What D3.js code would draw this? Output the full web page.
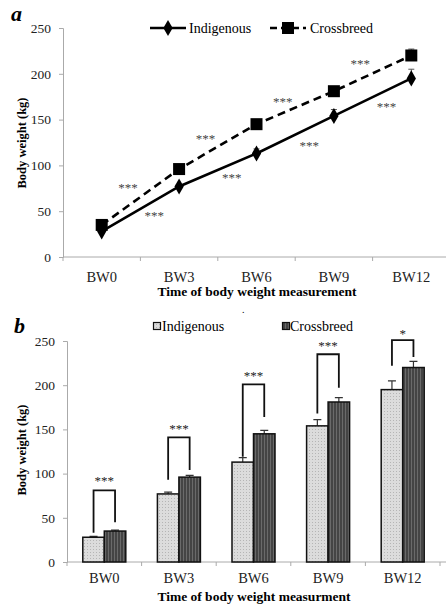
<!DOCTYPE html>
<html>
<head>
<meta charset="utf-8">
<script src="https://cdn.jsdelivr.net/npm/d3@7"></script>
<style>
  body { margin: 0; background: #fff; }
  svg text { font-family: "Liberation Serif", "Times New Roman", serif; }
</style>
</head>
<body>
<svg width="446" height="605"></svg>
<script>
const times = ['BW0', 'BW3', 'BW6', 'BW9', 'BW12']
const series = ['Indigenous', 'Crossbreed']
const indigenous = [28, 77, 113, 154, 195]
const crossbreed = [35, 96, 145, 181, 220]
const indigenousErr = [1, 2, 5, 7, 10]
const crossbreedErr = [1, 2, 4, 5, 7]
const yTicks = [0, 50, 100, 150, 200, 250]

// panel a: significance stars between time points [segment, value]
const starsUpper = [[0, 79], [1, 132], [2, 172], [3, 214]]
const starsLower = [[0, 48], [1, 89], [2, 124], [3, 167]]

// panel b: brackets [left foot, right foot, top, label value]
const brackets = [
  [33, 45, 81, 95],
  [93, 104, 141, 154],
  [119, 164, 201, 214],
  [168, 197, 235, 248],
  [222, 232, 251, 261]
]
const bracketLabels = ['***', '***', '***', '***', '*']

const svg = d3.select('svg')
const grey = '#aaa'

const styleAxis = g => {
  g.attr('font-family', null)
  g.select('.domain').attr('stroke', grey)
  g.selectAll('.tick line').attr('stroke', grey)
  g.selectAll('text').attr('fill', '#222')
}

// ---------- panel a ----------
const xa = d3.scaleBand().domain(times).range([63, 450])
const ya = d3.scaleLinear().domain([0, 250]).range([257, 28])
const cx = d => xa(d) + xa.bandwidth() / 2

svg.append('g')
  .attr('transform', 'translate(63,0)')
  .call(d3.axisLeft(ya).tickValues(yTicks).tickSize(4).tickPadding(8))
  .call(styleAxis)
  .call(g => g.selectAll('text').attr('font-size', 13.5))

const xAxisA = svg.append('g')
  .attr('transform', 'translate(0,257)')
xAxisA.append('line').attr('x1', 63).attr('x2', 446).attr('stroke', grey)
xAxisA.selectAll('line.tk').data(d3.range(6)).join('line')
  .attr('class', 'tk')
  .attr('x1', i => 63 + i * xa.bandwidth()).attr('x2', i => 63 + i * xa.bandwidth())
  .attr('y1', 0).attr('y2', 4).attr('stroke', grey)
xAxisA.selectAll('text').data(times).join('text')
  .attr('x', cx).attr('y', 25)
  .attr('text-anchor', 'middle').attr('font-size', 14.5).attr('fill', '#222')
  .text(d => d)

svg.append('text').attr('x', 257).attr('y', 296)
  .attr('text-anchor', 'middle').attr('font-weight', 'bold').attr('font-size', 13.5)
  .text('Time of body weight measurement')
svg.append('text').attr('transform', 'translate(26,143) rotate(-90)')
  .attr('text-anchor', 'middle').attr('font-weight', 'bold').attr('font-size', 12.5)
  .text('Body weight (kg)')
svg.append('text').attr('x', 11).attr('y', 21)
  .attr('font-weight', 'bold').attr('font-style', 'italic').attr('font-size', 22)
  .text('a')

const line = d3.line().x((d, i) => cx(times[i])).y(d => ya(d))

// error bars
const errA = [[indigenous, indigenousErr], [crossbreed, crossbreedErr]]
errA.forEach(([vals, errs]) => {
  svg.append('g').selectAll('path').data(vals).join('path')
    .attr('d', (d, i) => {
      const x = cx(times[i]), y0 = ya(d), y1 = ya(d + errs[i])
      return `M${x},${y0}V${y1}M${x - 3},${y1}H${x + 3}`
    })
    .attr('stroke', '#555').attr('stroke-width', 1)
})

svg.append('path').datum(crossbreed).attr('d', line)
  .attr('fill', 'none').attr('stroke', '#000').attr('stroke-width', 2.6).attr('stroke-dasharray', '8,5')
svg.append('path').datum(indigenous).attr('d', line)
  .attr('fill', 'none').attr('stroke', '#000').attr('stroke-width', 2.6)

const diamond = d3.symbol().type(d3.symbolDiamond).size(75)
svg.append('g').selectAll('path').data(indigenous).join('path')
  .attr('transform', (d, i) => `translate(${cx(times[i])},${ya(d)})`)
  .attr('d', diamond).attr('fill', '#000')
svg.append('g').selectAll('rect').data(crossbreed).join('rect')
  .attr('x', (d, i) => cx(times[i]) - 6).attr('y', d => ya(d) - 6)
  .attr('width', 12).attr('height', 12).attr('fill', '#000')

const starPos = (arr, t) => svg.append('g').selectAll('text').data(arr).join('text')
  .attr('x', d => cx(times[d[0]]) + t * xa.bandwidth())
  .attr('y', d => ya(d[1]) + 7)
  .attr('text-anchor', 'middle').attr('font-size', 13).attr('fill', '#444')
  .text('***')
starPos(starsUpper, 0.34)
starPos(starsLower, 0.68)

// legend a
const legA = svg.append('g')
legA.append('line').attr('x1', 150).attr('x2', 186).attr('y1', 28).attr('y2', 28)
  .attr('stroke', '#000').attr('stroke-width', 2.6)
legA.append('path').attr('transform', 'translate(168,28)').attr('d', diamond).attr('fill', '#000')
legA.append('text').attr('x', 189).attr('y', 33).attr('font-size', 14).text(series[0])
legA.append('line').attr('x1', 270).attr('x2', 306).attr('y1', 28).attr('y2', 28)
  .attr('stroke', '#000').attr('stroke-width', 2.6).attr('stroke-dasharray', '7,4')
legA.append('rect').attr('x', 282).attr('y', 22).attr('width', 12).attr('height', 12).attr('fill', '#000')
legA.append('text').attr('x', 310).attr('y', 33).attr('font-size', 14).text(series[1])

// ---------- panel b ----------
const defs = svg.append('defs')
const dots = defs.append('pattern').attr('id', 'dots')
  .attr('patternUnits', 'userSpaceOnUse').attr('width', 3).attr('height', 3)
dots.append('rect').attr('width', 3).attr('height', 3).attr('fill', '#dcdcdc')
dots.append('rect').attr('width', 1).attr('height', 1).attr('fill', '#b5b5b5')
const stripes = defs.append('pattern').attr('id', 'stripes')
  .attr('patternUnits', 'userSpaceOnUse').attr('width', 3).attr('height', 3)
stripes.append('rect').attr('width', 3).attr('height', 3).attr('fill', '#444')
stripes.append('rect').attr('width', 1).attr('height', 3).attr('fill', '#6a6a6a')

const xb = d3.scaleBand().domain(times).range([67, 440])
const yb = d3.scaleLinear().domain([0, 250]).range([562, 341])
const xs = d3.scaleBand().domain(series).range([xb.bandwidth() / 2 - 21.5, xb.bandwidth() / 2 + 21.5])

svg.append('g')
  .attr('transform', 'translate(67,0)')
  .call(d3.axisLeft(yb).tickValues(yTicks).tickSize(4).tickPadding(8))
  .call(styleAxis)
  .call(g => g.selectAll('text').attr('font-size', 13.5))

const xAxisB = svg.append('g').attr('transform', 'translate(0,562)')
xAxisB.append('line').attr('x1', 67).attr('x2', 446).attr('stroke', grey)
xAxisB.selectAll('line.tk').data(d3.range(6)).join('line')
  .attr('class', 'tk')
  .attr('x1', i => 67 + i * xb.bandwidth()).attr('x2', i => 67 + i * xb.bandwidth())
  .attr('y1', 0).attr('y2', 4).attr('stroke', grey)
xAxisB.selectAll('text').data(times).join('text')
  .attr('x', d => xb(d) + xb.bandwidth() / 2).attr('y', 21)
  .attr('text-anchor', 'middle').attr('font-size', 14.5).attr('fill', '#222')
  .text(d => d)

svg.append('text').attr('x', 254).attr('y', 601)
  .attr('text-anchor', 'middle').attr('font-weight', 'bold').attr('font-size', 13.5)
  .text('Time of body weight measurment')
svg.append('text').attr('transform', 'translate(26,450) rotate(-90)')
  .attr('text-anchor', 'middle').attr('font-weight', 'bold').attr('font-size', 12.5)
  .text('Body weight (kg)')
svg.append('text').attr('x', 14).attr('y', 333)
  .attr('font-weight', 'bold').attr('font-style', 'italic').attr('font-size', 22)
  .text('b')
svg.append('text').attr('x', 242).attr('y', 313).attr('font-size', 10).text('.')

const barData = [[series[0], indigenous, indigenousErr, 'url(#dots)'], [series[1], crossbreed, crossbreedErr, 'url(#stripes)']]
barData.forEach(([s, vals, errs, fill]) => {
  const g = svg.append('g')
  g.selectAll('path').data(vals).join('path')
    .attr('d', (d, i) => {
      const x = xb(times[i]) + xs(s) + xs.bandwidth() / 2, y0 = yb(d), y1 = yb(d + errs[i])
      return `M${x},${y0}V${y1}M${x - 4},${y1}H${x + 4}`
    })
    .attr('stroke', '#333').attr('stroke-width', 1.2)
  g.selectAll('rect').data(vals).join('rect')
    .attr('x', (d, i) => xb(times[i]) + xs(s))
    .attr('y', d => yb(d))
    .attr('width', xs.bandwidth())
    .attr('height', d => yb(0) - yb(d))
    .attr('fill', fill).attr('stroke', '#111').attr('stroke-width', 1.5)
})

const bx = (i, s) => xb(times[i]) + xs(s) + xs.bandwidth() / 2
svg.append('g').selectAll('path').data(brackets).join('path')
  .attr('d', (d, i) => `M${bx(i, series[0])},${yb(d[0])}V${yb(d[2])}H${bx(i, series[1])}V${yb(d[1])}`)
  .attr('fill', 'none').attr('stroke', '#111').attr('stroke-width', 1.8)
svg.append('g').selectAll('text').data(brackets).join('text')
  .attr('x', (d, i) => xb(times[i]) + xb.bandwidth() / 2)
  .attr('y', d => yb(d[3]) + 7)
  .attr('text-anchor', 'middle').attr('font-size', 13).attr('fill', '#222')
  .text((d, i) => bracketLabels[i])

// legend b
const legB = svg.append('g')
legB.append('rect').attr('x', 153.5).attr('y', 322.5).attr('width', 7).attr('height', 7)
  .attr('fill', 'url(#dots)').attr('stroke', '#111').attr('stroke-width', 1.2)
legB.append('text').attr('x', 162).attr('y', 331).attr('font-size', 14).text(series[0])
legB.append('rect').attr('x', 282.5).attr('y', 322.5).attr('width', 7).attr('height', 7)
  .attr('fill', 'url(#stripes)').attr('stroke', '#111').attr('stroke-width', 1.2)
legB.append('text').attr('x', 290).attr('y', 331).attr('font-size', 14).text(series[1])
</script>
</body>
</html>
